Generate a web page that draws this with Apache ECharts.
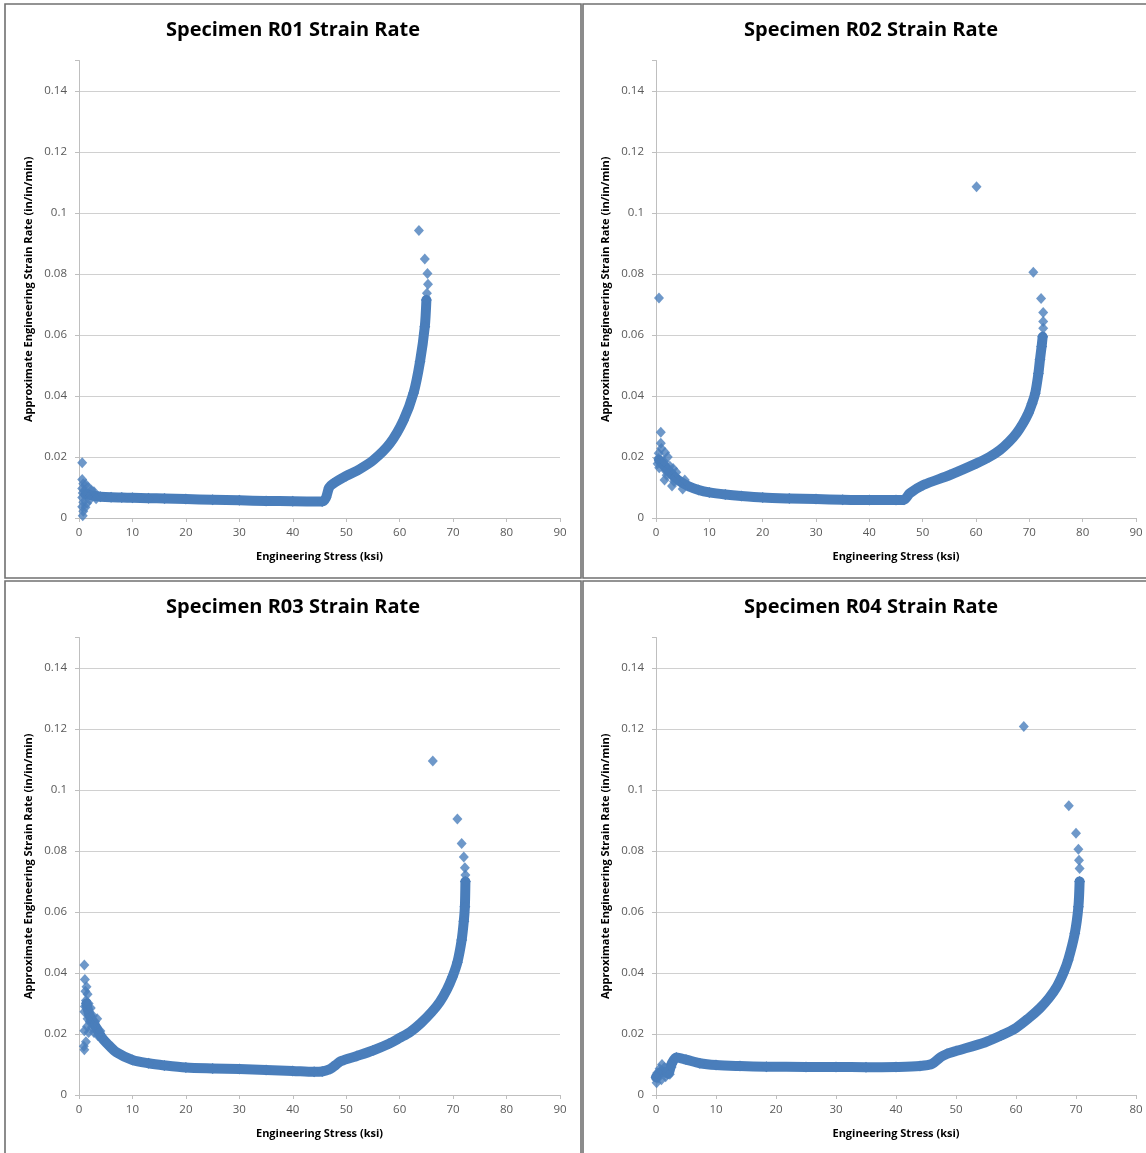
<!DOCTYPE html>
<html>
<head>
<meta charset="utf-8">
<script src="https://cdn.jsdelivr.net/npm/echarts@6/dist/echarts.min.js"></script>
<style>
html,body{margin:0;padding:0;background:#fff;}
#c{width:1146px;height:1153px;}
</style>
</head>
<body>
<div id="c"></div>
<script>
// ---- Data ----
const titles = ['Specimen R01 Strain Rate','Specimen R02 Strain Rate','Specimen R03 Strain Rate','Specimen R04 Strain Rate'];
const xMaxes = [90, 90, 90, 80];
const yTicks = [0, 0.02, 0.04, 0.06, 0.08, 0.1, 0.12, 0.14];
const xName = 'Engineering Stress (ksi)';
const yName = 'Approximate Engineering Strain Rate (in/in/min)';

// dense band of points (centre line of the band) [stress ksi, strain rate]
const r01Band = [[1.2,0.0078],[2,0.0076],[3,0.0072],[4,0.0070],[6,0.0068],[8,0.0067],[10,0.0066],[13,0.0065],[16,0.0064],[20,0.0062],[25,0.0060],[30,0.0058],[35,0.0056],[40,0.0055],[45.5,0.0054],[46.2,0.0066],[46.8,0.0100],[47.5,0.0112],[50,0.0138],[52.5,0.0160],[55.1,0.0190],[58.2,0.0245],[60.7,0.0320],[62.6,0.0410],[63.8,0.0512],[64.7,0.0627],[65.0,0.0715]];
const r02Band = [[0.6,0.0190],[1.5,0.0172],[2.5,0.0152],[3.5,0.0134],[4.5,0.0120],[6,0.0105],[8,0.0092],[10,0.0084],[13,0.0077],[16,0.0072],[20,0.0067],[25,0.0064],[30,0.0062],[35,0.0060],[40,0.0059],[45,0.0059],[46.5,0.0060],[47.6,0.0081],[50.1,0.0108],[55.1,0.0141],[60.1,0.0179],[62.5,0.0200],[64.5,0.0223],[66.2,0.0250],[67.6,0.0278],[68.8,0.0310],[69.8,0.0343],[70.5,0.0375],[71.1,0.0409],[71.7,0.0474],[72.0,0.0520],[72.3,0.0562],[72.5,0.0594]];
const r03Band = [[1.4,0.0300],[2,0.0260],[3.3,0.0218],[4.2,0.0190],[5.2,0.0170],[7,0.0140],[10,0.0115],[13,0.0104],[16,0.0097],[20,0.0090],[25,0.0087],[30,0.0085],[35,0.0082],[40,0.0079],[44,0.0076],[45.5,0.0077],[47,0.0085],[48,0.0098],[49,0.0111],[52,0.0128],[55,0.0146],[58,0.0168],[60,0.0187],[62,0.0207],[64,0.0236],[66,0.0272],[67.5,0.0305],[68.8,0.0344],[69.9,0.0388],[70.8,0.0435],[71.6,0.0508],[72.0,0.0570],[72.2,0.0617],[72.3,0.0700]];
const r04Band = [[0,0.0058],[0.5,0.0070],[1.0,0.0077],[1.5,0.0075],[2.0,0.0070],[2.6,0.0102],[3.4,0.0123],[5,0.0116],[7.3,0.0104],[10,0.0098],[14,0.0095],[18.4,0.0093],[25,0.0092],[30,0.0092],[35,0.0091],[40,0.0092],[44,0.0095],[46,0.0102],[47.5,0.0125],[48.5,0.0135],[50,0.0144],[55,0.0174],[57.5,0.0195],[60,0.0220],[62,0.0250],[64,0.0285],[65.5,0.0318],[66.8,0.0355],[67.9,0.0400],[68.7,0.0443],[69.8,0.0530],[70.4,0.0617],[70.6,0.0700]];

// individual, separately visible points
const r01Points = [[0.7,0.0007],[0.8,0.0022],[0.6,0.0037],[0.8,0.0052],[0.6,0.0067],[0.7,0.0082],[0.6,0.0097],[0.8,0.0112],[0.6,0.0126],[0.6,0.0181],[1.2,0.0035],[1.5,0.0048],[1.3,0.0110],[1.7,0.0100],[2.0,0.0060],[2.3,0.0092],[1.0,0.0090],[2.8,0.0086],[3.2,0.0063],[65.1,0.0737],[65.3,0.0766],[65.2,0.0802],[64.7,0.0849],[63.6,0.0943]];
const r02Points = [[0.56,0.0721],[0.9,0.0281],[0.9,0.0245],[1.0,0.0228],[0.5,0.0212],[0.4,0.0195],[0.3,0.0178],[0.6,0.0165],[1.6,0.0125],[2.0,0.0140],[1.8,0.0155],[1.5,0.0185],[2.2,0.0200],[1.7,0.0215],[2.6,0.0170],[3.0,0.0105],[3.4,0.0120],[3.8,0.0150],[3.2,0.0162],[5.0,0.0095],[5.4,0.0125],[60.1,0.1086],[70.75,0.0806],[72.2,0.0720],[72.6,0.0674],[72.6,0.0644],[72.6,0.0622]];
const r03Points = [[1.0,0.0426],[1.1,0.0379],[1.0,0.0273],[1.0,0.0211],[1.3,0.0175],[1.0,0.0148],[0.9,0.0160],[1.2,0.0340],[1.4,0.0355],[1.6,0.0330],[1.3,0.0310],[1.1,0.0290],[1.8,0.0300],[2.2,0.0285],[2.6,0.0260],[3.0,0.0240],[2.0,0.0240],[1.6,0.0250],[2.8,0.0205],[3.5,0.0195],[1.5,0.0225],[1.8,0.0205],[2.4,0.0222],[3.4,0.0250],[4.0,0.0210],[66.2,0.1095],[70.8,0.0905],[71.6,0.0825],[72.0,0.0780],[72.2,0.0745],[72.3,0.0721]];
const r04Points = [[0.1,0.0040],[0.3,0.0055],[0.2,0.0072],[0.6,0.0086],[1.0,0.0100],[0.9,0.0050],[1.4,0.0090],[1.6,0.0060],[2.0,0.0085],[2.3,0.0068],[2.6,0.0092],[61.3,0.1208],[68.8,0.0948],[70.0,0.0858],[70.4,0.0806],[70.5,0.0770],[70.6,0.0743]];

const bands = [r01Band, r02Band, r03Band, r04Band];
const points = [r01Points, r02Points, r03Points, r04Points];

// ---- Layout ----
const BLUE = '#4a7ebb';
const FONT = '"Open Sans", "Noto Sans", sans-serif';
const grids = [
  {left: 79, top: 60.5, width: 481, height: 457.5},
  {left: 656, top: 60.5, width: 480, height: 457.5},
  {left: 79, top: 637.5, width: 481, height: 457.5},
  {left: 656, top: 637.5, width: 480, height: 457.5}
];
const panels = [
  {x: 5, y: 4, w: 576, h: 574},
  {x: 583, y: 4, w: 590, h: 574},
  {x: 5, y: 581, w: 576, h: 600},
  {x: 583, y: 581, w: 590, h: 600}
];
const yMax = 0.15;
const yStep = yTicks[1] - yTicks[0];

const chart = echarts.init(document.getElementById('c'), null, {renderer: 'canvas'});

const option = {
  animation: false,
  backgroundColor: '#ffffff',
  title: titles.map((t, i) => ({
    text: t,
    left: panels[i].x + 288,
    textAlign: 'center',
    top: panels[i].y + 16,
    padding: 0,
    textStyle: {fontFamily: FONT, fontSize: 20, fontWeight: 'bold', color: '#000'}
  })),
  grid: grids.map(g => Object.assign({containLabel: false}, g)),
  xAxis: xMaxes.map((m, i) => ({
    type: 'value', gridIndex: i, min: 0, max: m, interval: 10,
    name: xName, nameLocation: 'middle', nameGap: 33,
    nameTextStyle: {fontFamily: FONT, fontSize: 11, fontWeight: 'bold', color: '#000'},
    axisLine: {show: true, onZero: false, lineStyle: {color: '#bfbfbf', width: 1}},
    axisTick: {show: true, inside: false, length: 4, lineStyle: {color: '#bfbfbf'}},
    axisLabel: {fontFamily: FONT, fontSize: 11.5, color: '#595959', margin: 9},
    splitLine: {show: false}
  })),
  yAxis: xMaxes.map((m, i) => ({
    type: 'value', gridIndex: i, min: 0, max: yMax, interval: yStep,
    name: yName, nameLocation: 'middle', nameGap: 45,
    nameTextStyle: {fontFamily: FONT, fontSize: 11, fontWeight: 'bold', color: '#000'},
    axisLine: {show: true, lineStyle: {color: '#bfbfbf', width: 1}},
    axisTick: {show: true, inside: false, length: 4, lineStyle: {color: '#bfbfbf'}},
    axisLabel: {fontFamily: FONT, fontSize: 11.5, color: '#595959', margin: 12,
      formatter: v => (v > yTicks[yTicks.length - 1] + 1e-9 ? '' : String(+v.toFixed(2)))},
    splitLine: {show: true, lineStyle: {color: ['#d0d0d0','#d0d0d0','#d0d0d0','#d0d0d0','#d0d0d0','#d0d0d0','#d0d0d0','#d0d0d0','rgba(0,0,0,0)'], width: 1}}
  })),
  series: [].concat(
    bands.map((b, i) => ({
      type: 'line', xAxisIndex: i, yAxisIndex: i, data: b,
      showSymbol: true, symbol: 'diamond', symbolSize: 11,
      itemStyle: {color: BLUE}, lineStyle: {color: BLUE, width: 10, cap: 'round', join: 'round'},
      smooth: 0.3, z: 3, silent: true
    })),
    points.map((p, i) => ({
      type: 'scatter', xAxisIndex: i, yAxisIndex: i, data: p,
      symbol: 'diamond', symbolSize: [10, 11],
      itemStyle: {color: BLUE}, z: 4, silent: true
    }))
  ),
  graphic: panels.map(p => ({
    type: 'rect', silent: true, z: 100,
    shape: {x: p.x, y: p.y, width: p.w, height: p.h},
    style: {fill: 'none', stroke: '#707070', lineWidth: 1.6}
  }))
};
chart.setOption(option);
</script>
</body>
</html>
